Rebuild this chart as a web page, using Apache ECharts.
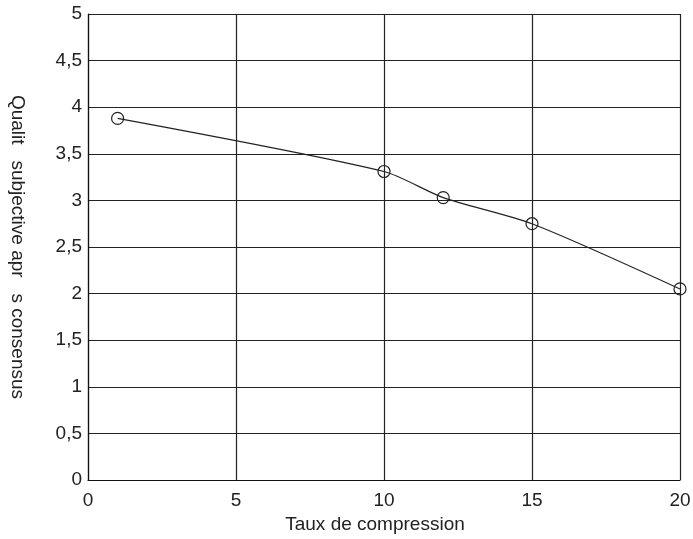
<!DOCTYPE html>
<html>
<head>
<meta charset="utf-8">
<script src="https://cdn.jsdelivr.net/npm/echarts@6/dist/echarts.min.js"></script>
<style>
  html, body { margin: 0; padding: 0; background: #fff; }
  #chart { width: 693px; height: 539px; }
</style>
</head>
<body>
<div id="chart"></div>
<script>
var taux = [1, 10, 12, 15, 20];
var qualite = [3.88, 3.31, 3.03, 2.75, 2.05];

var xName = 'Taux de compression';
var yName = 'Qualit   subjective apr   s consensus';

var chart = echarts.init(document.getElementById('chart'));

var points = [];
for (var i = 0; i < taux.length; i++) {
  points.push([taux[i], qualite[i]]);
}

var font = 'Liberation Sans, Arial, sans-serif';

var option = {
  backgroundColor: '#fff',
  animation: false,
  grid: {
    left: 88,
    right: 13,
    top: 14,
    bottom: 59,
    outerBoundsMode: 'none'
  },
  xAxis: {
    type: 'value',
    min: 0,
    max: 20,
    interval: 5,
    name: xName,
    nameLocation: 'middle',
    nameGap: 33,
    nameTextStyle: { color: '#222', fontSize: 19, fontFamily: font, padding: [0, 18, 0, 0] },
    axisLine: { lineStyle: { color: '#111', width: 1.2 } },
    axisTick: { show: false },
    axisLabel: { color: '#222', fontSize: 19, fontFamily: font, margin: 11 },
    splitLine: { show: true, lineStyle: { color: '#222', width: 1.2 } }
  },
  yAxis: {
    type: 'value',
    min: 0,
    max: 5,
    interval: 0.5,
    name: yName,
    nameLocation: 'middle',
    nameRotate: -90,
    nameGap: 61,
    nameTextStyle: { color: '#222', fontSize: 19, fontFamily: font },
    axisLine: { show: true, lineStyle: { color: '#111', width: 1.2 } },
    axisTick: { show: false },
    axisLabel: {
      color: '#222',
      fontSize: 19,
      fontFamily: font,
      margin: 6,
      formatter: function (v) { return String(v).replace('.', ','); }
    },
    splitLine: { show: true, lineStyle: { color: '#222', width: 1.2 } }
  },
  series: [{
    type: 'line',
    data: points,
    smooth: 0.25,
    symbol: 'circle',
    symbolSize: 12,
    itemStyle: { color: 'rgba(255,255,255,0)', borderColor: '#222', borderWidth: 1.2 },
    lineStyle: { color: '#222', width: 1.2 }
  }]
};

chart.setOption(option);
</script>
</body>
</html>
